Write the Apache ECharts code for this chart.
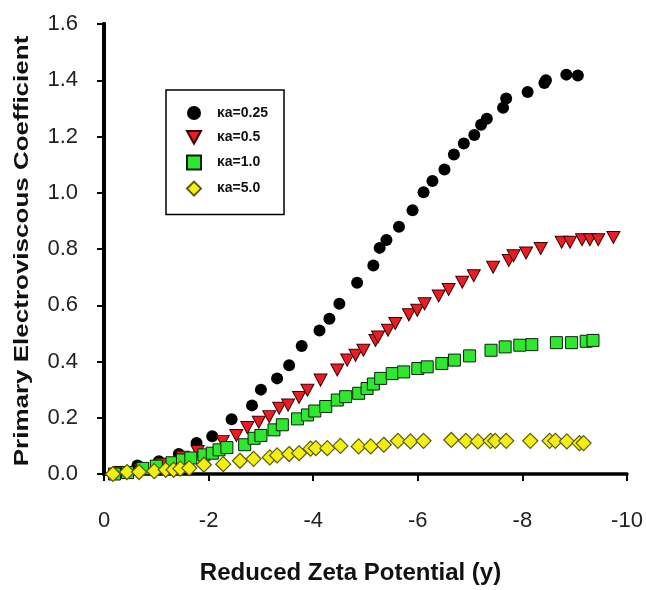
<!DOCTYPE html>
<html>
<head>
<meta charset="utf-8">
<script src="https://cdn.jsdelivr.net/npm/echarts@6/dist/echarts.min.js"></script>
<style>
html, body { margin: 0; padding: 0; background: #fff; }
#chart { width: 646px; height: 590px; }
</style>
</head>
<body>
<div id="chart"></div>
<script>
var FONT = '"Liberation Sans", Arial, sans-serif';

// series names (legend)
var seriesNames = ['κa=0.25', 'κa=0.5', 'κa=1.0', 'κa=5.0'];

// [y, coefficient] pairs
var ka025 = [[-0.2,0.005],[-0.64,0.03],[-1.05,0.045],[-1.43,0.071],[-1.77,0.11],[-2.07,0.134],[-2.44,0.195],[-2.83,0.244],[-3.0,0.30],[-3.31,0.34],[-3.54,0.387],[-3.78,0.455],[-4.12,0.51],[-4.31,0.552],[-4.5,0.605],[-4.84,0.68],[-5.15,0.741],[-5.27,0.804],[-5.40,0.832],[-5.64,0.879],[-5.90,0.938],[-6.11,1.002],[-6.28,1.042],[-6.51,1.083],[-6.69,1.136],[-6.88,1.175],[-7.08,1.205],[-7.21,1.242],[-7.32,1.263],[-7.63,1.302],[-7.69,1.335],[-8.10,1.358],[-8.42,1.39],[-8.45,1.40],[-8.84,1.42],[-9.06,1.417]];

var ka05 = [[-0.3,0.005],[-0.7,0.015],[-1.1,0.035],[-1.5,0.06],[-1.79,0.08],[-2.27,0.116],[-2.53,0.137],[-2.74,0.165],[-2.96,0.184],[-3.16,0.204],[-3.35,0.234],[-3.52,0.245],[-3.73,0.272],[-3.89,0.298],[-4.14,0.334],[-4.46,0.37],[-4.65,0.405],[-4.81,0.422],[-4.96,0.44],[-5.19,0.475],[-5.24,0.487],[-5.43,0.511],[-5.57,0.535],[-5.83,0.566],[-5.99,0.582],[-6.13,0.605],[-6.40,0.633],[-6.59,0.656],[-6.85,0.682],[-7.07,0.705],[-7.44,0.735],[-7.74,0.759],[-7.83,0.776],[-8.07,0.786],[-8.35,0.802],[-8.75,0.824],[-8.91,0.824],[-9.14,0.833],[-9.29,0.833],[-9.45,0.833],[-9.74,0.841]];

var ka10 = [[-0.2,0.0],[-0.45,0.005],[-0.74,0.02],[-1.0,0.028],[-1.3,0.04],[-1.5,0.05],[-1.66,0.057],[-1.91,0.068],[-2.07,0.074],[-2.20,0.086],[-2.35,0.094],[-2.69,0.104],[-2.87,0.127],[-3.0,0.137],[-3.25,0.157],[-3.41,0.175],[-3.70,0.196],[-3.89,0.21],[-4.03,0.224],[-4.24,0.24],[-4.46,0.263],[-4.62,0.275],[-4.87,0.287],[-5.03,0.304],[-5.15,0.32],[-5.29,0.34],[-5.51,0.357],[-5.73,0.363],[-6.0,0.375],[-6.18,0.381],[-6.46,0.393],[-6.70,0.405],[-6.99,0.42],[-7.40,0.44],[-7.67,0.452],[-7.95,0.458],[-8.18,0.46],[-8.65,0.467],[-8.94,0.467],[-9.22,0.472],[-9.35,0.475]];

var ka50 = [[-0.17,0.0],[-0.44,0.007],[-0.67,0.007],[-0.96,0.01],[-1.18,0.015],[-1.33,0.015],[-1.46,0.019],[-1.63,0.021],[-1.91,0.033],[-2.28,0.035],[-2.60,0.047],[-2.86,0.054],[-3.17,0.059],[-3.31,0.066],[-3.54,0.071],[-3.73,0.074],[-3.95,0.09],[-4.05,0.092],[-4.27,0.092],[-4.52,0.10],[-4.87,0.098],[-5.10,0.098],[-5.35,0.104],[-5.62,0.118],[-5.86,0.116],[-6.11,0.118],[-6.64,0.121],[-6.92,0.118],[-7.15,0.116],[-7.39,0.118],[-7.48,0.118],[-7.69,0.118],[-8.15,0.118],[-8.52,0.118],[-8.63,0.118],[-8.85,0.116],[-9.09,0.11],[-9.17,0.11]];

var chart = echarts.init(document.getElementById('chart'));

var option = {
    backgroundColor: '#fff',
    animation: false,
    grid: { left: 104, right: 19, top: 24, bottom: 114 },
    legend: {
        orient: 'vertical',
        left: 166,
        top: 90,
        padding: [16, 16, 18, 20],
        itemGap: 10,
        itemWidth: 14,
        itemHeight: 14,
        borderColor: '#000',
        borderWidth: 1.5,
        textStyle: { fontFamily: FONT, fontWeight: 'bold', fontSize: 14, color: '#111', padding: [0, 0, 0, 11] },
        data: seriesNames
    },
    graphic: [{
        type: 'text',
        x: 22,
        y: 251,
        rotation: Math.PI / 2,
        scaleX: 1.3,
        style: {
            text: 'Primary Electroviscous Coefficient',
            font: 'bold 20px ' + FONT,
            fill: '#111',
            align: 'center',
            verticalAlign: 'middle'
        }
    }],
    xAxis: [{
        type: 'value',
        min: -10,
        max: 0,
        interval: 2,
        inverse: true,
        name: 'Reduced Zeta Potential (y)',
        nameLocation: 'middle',
        nameGap: 87,
        nameTextStyle: { fontFamily: FONT, fontWeight: 'bold', fontSize: 24, color: '#111', padding: [0, 30, 0, 0] },
        axisLine: { lineStyle: { color: '#000', width: 3.5 } },
        axisTick: { length: 7, lineStyle: { color: '#000', width: 2 } },
        axisLabel: { margin: 36, fontFamily: FONT, fontSize: 22, color: '#222' },
        splitLine: { show: false }
    }, {
        type: 'value',
        position: 'top',
        min: -10,
        max: 0,
        inverse: true,
        axisLine: { show: true, lineStyle: { color: '#000', width: 2 } },
        axisTick: { show: false },
        axisLabel: { show: false },
        splitLine: { show: false }
    }],
    yAxis: [{
        type: 'value',
        min: 0,
        max: 1.6,
        interval: 0.2,
        axisLine: { show: true, lineStyle: { color: '#000', width: 4 } },
        axisTick: { show: true, length: 7, lineStyle: { color: '#000', width: 2 } },
        axisLabel: {
            margin: 26, fontFamily: FONT, fontSize: 22, color: '#222',
            formatter: function(v) { return v.toFixed(1); }
        },
        splitLine: { show: false }
    }, {
        type: 'value',
        position: 'right',
        min: 0,
        max: 1.6,
        axisLine: { show: true, lineStyle: { color: '#000', width: 4 } },
        axisTick: { show: false },
        axisLabel: { show: false },
        splitLine: { show: false }
    }],
    series: [{
        name: seriesNames[0],
        type: 'scatter',
        symbol: 'circle',
        symbolSize: 12,
        itemStyle: { color: '#000', opacity: 1 },
        data: ka025
    }, {
        name: seriesNames[1],
        type: 'scatter',
        symbol: 'path://M0,0 L10,0 L5,9 Z',
        symbolSize: [13, 12],
        itemStyle: { color: '#ec1c24', borderColor: '#3a0000', borderWidth: 1, opacity: 1 },
        data: ka05
    }, {
        name: seriesNames[2],
        type: 'scatter',
        symbol: 'rect',
        symbolSize: 12,
        itemStyle: { color: '#2ee82e', borderColor: '#0a200a', borderWidth: 1, opacity: 1 },
        data: ka10
    }, {
        name: seriesNames[3],
        type: 'scatter',
        symbol: 'diamond',
        symbolSize: 15,
        itemStyle: { color: '#f4ef12', borderColor: '#5a5a10', borderWidth: 1.2, opacity: 1 },
        data: ka50
    }]
};

chart.setOption(option);
</script>
</body>
</html>
